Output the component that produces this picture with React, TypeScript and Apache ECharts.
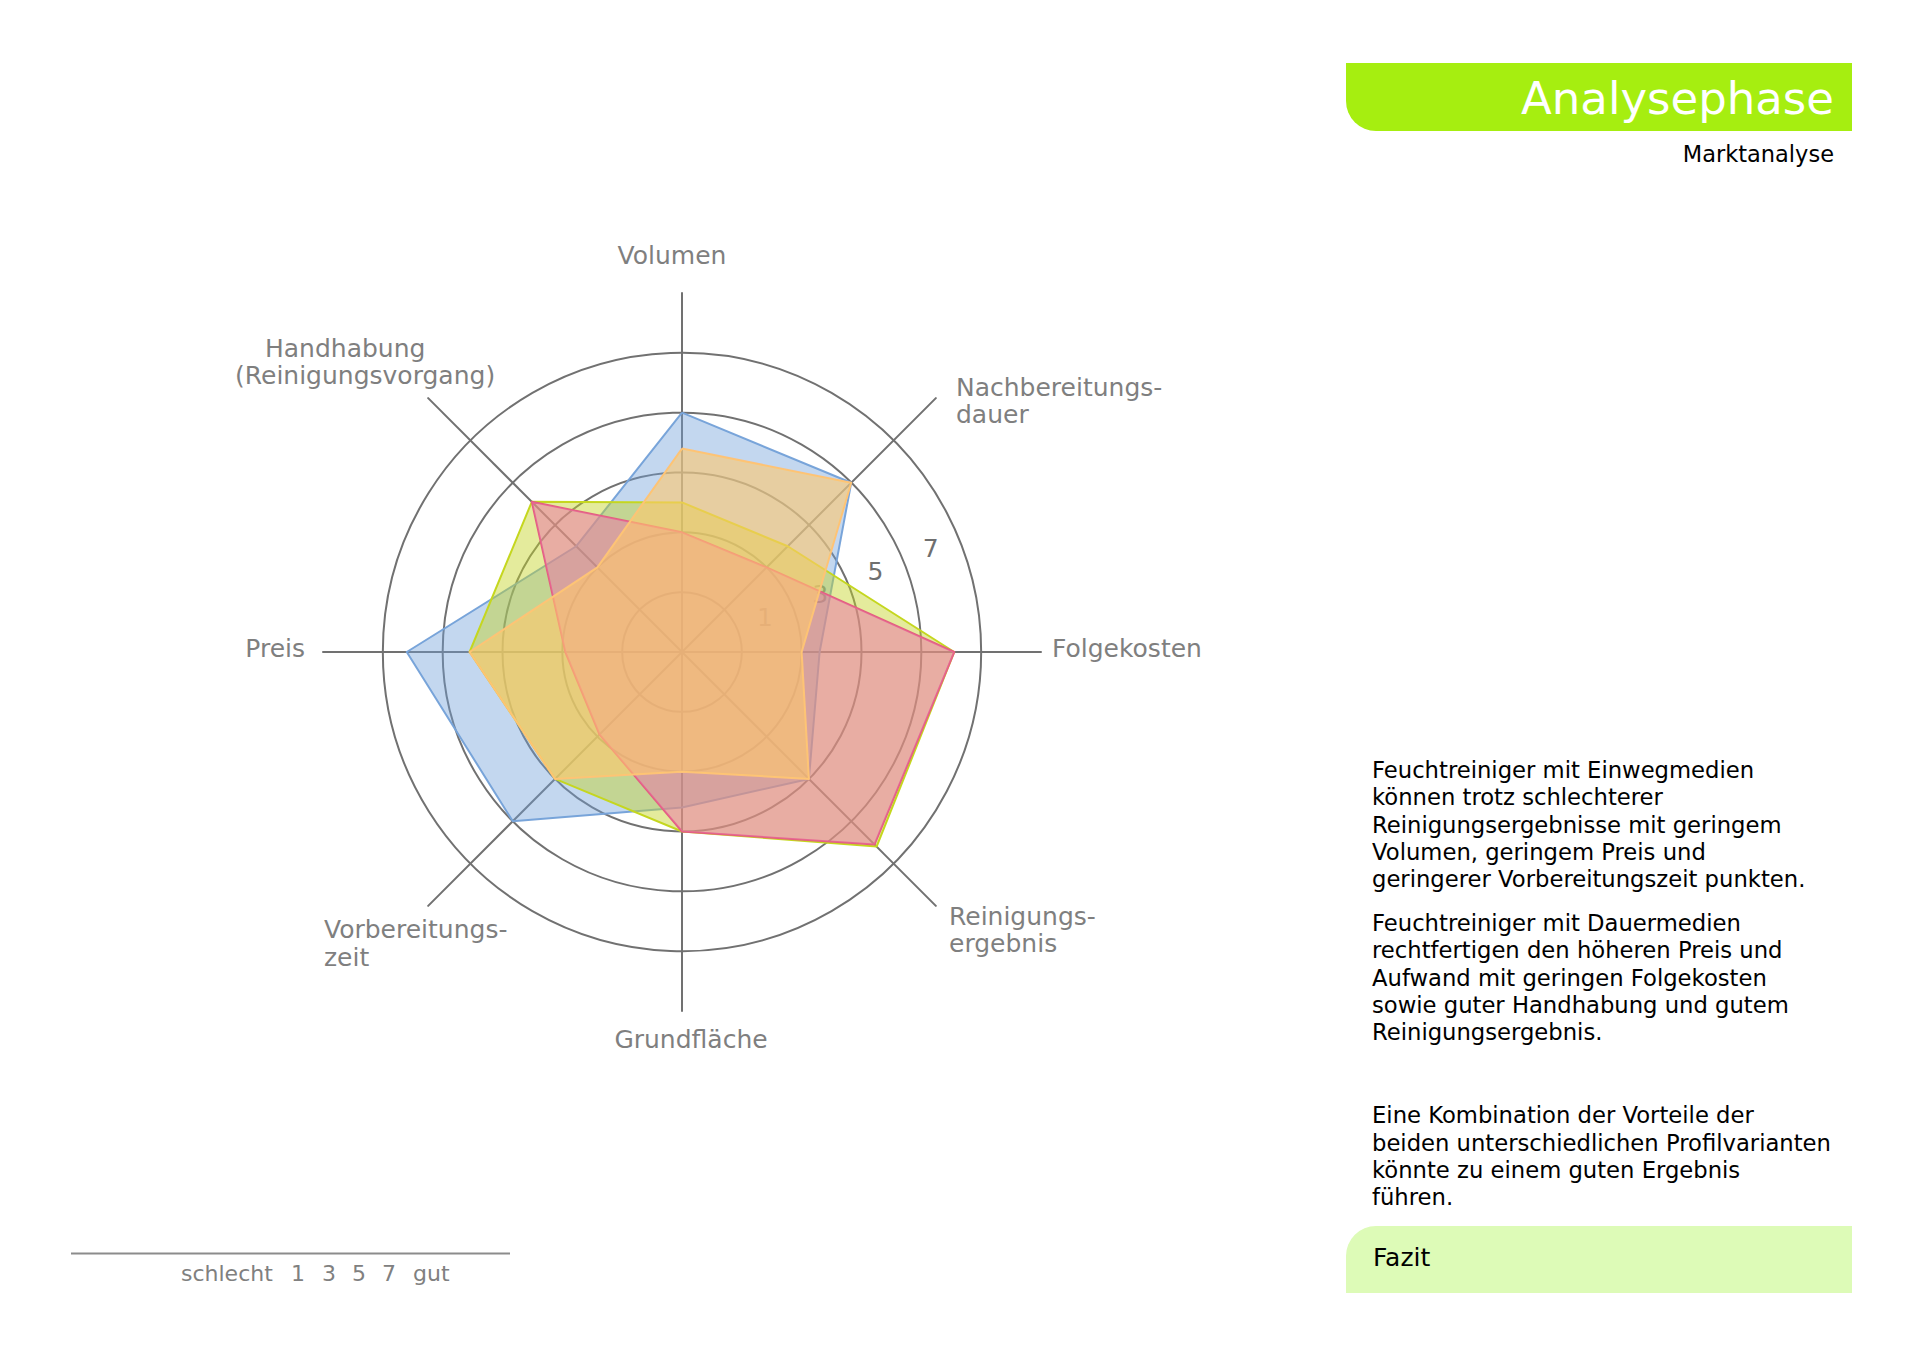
import React, { useEffect, useRef } from 'react';
import * as echarts from 'echarts';

// ---------- data ----------
const INDICATORS = [
  'Volumen',
  'Handhabung (Reinigungsvorgang)',
  'Preis',
  'Vorbereitungszeit',
  'Grundfläche',
  'Reinigungsergebnis',
  'Folgekosten',
  'Nachbereitungsdauer',
];
const SERIES_NAMES = ['Profil A', 'Profil B', 'Profil C', 'Profil D'];
const BLUE_VALUES = [6, 3, 7.2, 6, 3.2, 4, 2.6, 6];
const GREEN_VALUES = [3, 5.1, 5.1, 4, 4, 7.2, 7.1, 3];
const RED_VALUES = [2, 5.1, 1.9, 1.9, 4, 7.1, 7.1, 2];
const ORANGE_VALUES = [4.8, 2, 5.1, 4, 2, 4, 2, 6];
const AXIS_MIN = -2;
const AXIS_MAX = 10;
const TICK_LABELS = [1, 3, 5, 7];
const LEGEND_TOKENS = ['schlecht', '1', '3', '5', '7', 'gut'];
const TITLE = 'Analysephase';
const SUBTITLE = 'Marktanalyse';
const PARAGRAPHS = [
  'Feuchtreiniger mit Einwegmedien\nkönnen trotz schlechterer\nReinigungsergebnisse mit geringem\nVolumen, geringem Preis und\ngeringerer Vorbereitungszeit punkten.',
  'Feuchtreiniger mit Dauermedien\nrechtfertigen den höheren Preis und\nAufwand mit geringen Folgekosten\nsowie guter Handhabung und gutem\nReinigungsergebnis.',
  'Eine Kombination der Vorteile der\nbeiden unterschiedlichen Profilvarianten\nkönnte zu einem guten Ergebnis\nführen.',
];
const FAZIT = 'Fazit';

// ---------- styles / layout ----------
const FONT = '"DejaVu Sans", Verdana, sans-serif';
const CX = 682;
const CY = 652;
const R_AXIS = 359;
const SERIES_STYLE = [
  { line: '#7ba6da', fill: 'rgba(111,159,216,0.42)' },
  { line: '#c6d81f', fill: 'rgba(196,210,36,0.45)' },
  { line: '#e3607f', fill: 'rgba(236,112,170,0.5)' },
  { line: '#fdc27a', fill: 'rgba(255,200,108,0.6)' },
];
const SERIES_VALUES = [BLUE_VALUES, GREEN_VALUES, RED_VALUES, ORANGE_VALUES];

// axis name label layout (relative to chart centre)
const NAME_LABELS = [
  { text: 'Volumen', dx: -10, dy: -397, align: 'center' },
  { text: 'Handhabung', dx: -417, dy: -304, align: 'left' },
  { text: '(Reinigungsvorgang)', dx: -447, dy: -277, align: 'left' },
  { text: 'Preis', dx: -377, dy: -4, align: 'right' },
  { text: 'Vorbereitungs-', dx: -358, dy: 277, align: 'left' },
  { text: 'zeit', dx: -358, dy: 305, align: 'left' },
  { text: 'Grundfläche', dx: 9, dy: 387, align: 'center' },
  { text: 'Reinigungs-', dx: 267, dy: 264, align: 'left' },
  { text: 'ergebnis', dx: 267, dy: 291, align: 'left' },
  { text: 'Folgekosten', dx: 370, dy: -4, align: 'left' },
  { text: 'Nachbereitungs-', dx: 274, dy: -265, align: 'left' },
  { text: 'dauer', dx: 274, dy: -238, align: 'left' },
];
const LEGEND_X = [181, 298, 329, 359, 389, 413];
const LEGEND_ALIGN = ['left', 'center', 'center', 'center', 'center', 'left'];

function txt(text: string, x: number, y: number, size: number, fill: string, align = 'left', extra: any = {}) {
  return {
    type: 'text',
    silent: true,
    z: 10,
    style: {
      text,
      x,
      y,
      font: `${size}px ${FONT}`,
      fill,
      align,
      textAlign: align,
      verticalAlign: extra.verticalAlign || 'middle',
      textVerticalAlign: extra.verticalAlign || 'middle',
      lineHeight: extra.lineHeight,
    },
  };
}

export default function App() {
  const ref = useRef<HTMLDivElement>(null);

  useEffect(() => {
    if (!ref.current) return;
    const chart = echarts.init(ref.current, undefined, { renderer: 'svg' });

    const gray = '#717171';
    const ringColors = [gray, gray, gray, gray, gray, gray, 'rgba(0,0,0,0)'];

    const graphic: any[] = [];
    // header bar
    graphic.push({
      type: 'rect', silent: true, z: 5,
      shape: { x: 1346, y: 63, width: 506, height: 68, r: [0, 0, 0, 30] },
      style: { fill: '#a6ee10' },
    });
    graphic.push(txt(TITLE, 1834, 98, 45, '#ffffff', 'right'));
    graphic.push(txt(SUBTITLE, 1834, 154, 22.5, '#000000', 'right'));
    // paragraphs
    const paraTops = [756, 909, 1101.5];
    PARAGRAPHS.forEach((p, i) => {
      graphic.push(txt(p, 1372, paraTops[i], 22.7, '#000000', 'left', { verticalAlign: 'top', lineHeight: 27.4 }));
    });
    // Fazit bar
    graphic.push({
      type: 'rect', silent: true, z: 5,
      shape: { x: 1346, y: 1226, width: 506, height: 67, r: [30, 0, 0, 0] },
      style: { fill: '#ddfbb7' },
    });
    graphic.push(txt(FAZIT, 1373, 1257, 25, '#000000', 'left'));
    // bottom scale legend
    graphic.push({
      type: 'line', silent: true, z: 5,
      shape: { x1: 71, y1: 1253.5, x2: 510, y2: 1253.5 },
      style: { stroke: '#8c8c8c', lineWidth: 2 },
    });
    LEGEND_TOKENS.forEach((t, i) => {
      graphic.push(txt(t, LEGEND_X[i], 1273, 22, '#808080', LEGEND_ALIGN[i]));
    });
    // axis names
    NAME_LABELS.forEach((l) => {
      graphic.push(txt(l.text, CX + l.dx, CY + l.dy, 25, '#7f7f7f', l.align));
    });

    const option: any = {
      animation: false,
      backgroundColor: '#ffffff',
      graphic,
      radar: [
        {
          z: 0,
          center: [CX, CY],
          radius: R_AXIS,
          startAngle: 90,
          shape: 'circle',
          splitNumber: 6,
          indicator: INDICATORS.map((n) => ({ name: n, min: AXIS_MIN, max: AXIS_MAX })),
          axisName: { show: false },
          axisLine: { show: true, lineStyle: { color: gray, width: 2 } },
          splitLine: { show: true, lineStyle: { color: ringColors, width: 2 } },
          splitArea: { show: false },
          axisTick: { show: false },
          axisLabel: { show: false },
          silent: true,
        },
        {
          z: 0,
          center: [CX, CY],
          radius: R_AXIS,
          startAngle: 22.5,
          shape: 'circle',
          splitNumber: 12,
          indicator: INDICATORS.map((n, i) => {
            const ind: any = { name: n, min: AXIS_MIN, max: AXIS_MAX };
            if (i === 0) {
              ind.axisLabel = {
                show: true,
                margin: 0,
                align: 'center',
                verticalAlign: 'middle',
                color: '#6f6f6f',
                fontSize: 25,
                fontFamily: FONT,
                showMinLabel: false,
                showMaxLabel: false,
                formatter: (v: number) => {
                  const r = Math.round(v);
                  return Math.abs(v - r) < 1e-6 && TICK_LABELS.indexOf(r) >= 0 ? String(r) : '';
                },
              };
            }
            return ind;
          }),
          axisName: { show: false },
          axisLine: { show: false },
          splitLine: { show: false },
          splitArea: { show: false },
          axisTick: { show: false },
          axisLabel: { show: false },
          silent: true,
        },
      ],
      series: [
        {
          type: 'radar',
          radarIndex: 0,
          z: 4,
          symbol: 'none',
          silent: true,
          data: SERIES_VALUES.map((vals, i) => ({
            name: SERIES_NAMES[i],
            value: vals,
            symbol: 'none',
            lineStyle: { color: SERIES_STYLE[i].line, width: 2 },
            itemStyle: { color: SERIES_STYLE[i].line },
            areaStyle: { color: SERIES_STYLE[i].fill, opacity: 1 },
          })),
        },
      ],
    };

    chart.setOption(option);
    return () => chart.dispose();
  }, []);

  return (
    <div
      ref={ref}
      style={{ position: 'absolute', left: 0, top: 0, width: 1920, height: 1357, background: '#fff' }}
    />
  );
}
